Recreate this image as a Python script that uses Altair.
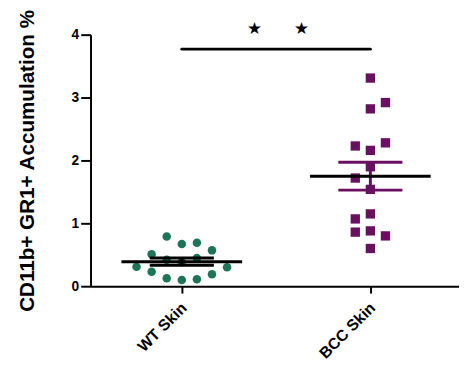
import altair as alt
import pandas as pd

# ---- data ----
groups = ["WT Skin", "BCC Skin"]
wt_values = [0.79, 0.67, 0.69, 0.57, 0.51, 0.45, 0.42, 0.38, 0.31, 0.30, 0.23, 0.19, 0.125, 0.10, 0.11]
wt_lanes = [-1, 0, 1, 2, -2, 1, -1, 0, -3, 3, -2, 2, -1, 0, 1]
bcc_values = [3.31, 2.82, 2.92, 2.23, 2.16, 2.28, 1.90, 1.72, 1.54, 1.15, 1.07, 0.86, 0.88, 0.80, 0.60]
bcc_lanes = [0, 0, 1, -1, 0, 1, 0, -1, 0, 0, -1, -1, 0, 1, 0]
y_ticks = [0, 1, 2, 3, 4]
sig_level = 3.77
star_level = 4.09
star_x = [0.385, 0.635]
star_text = ["★", "★"]

GREEN = "#1b7556"
PURPLE = "#6a1060"
LANE_STEP = 0.08

pts = pd.DataFrame({
    "gi": [0] * len(wt_values) + [1] * len(bcc_values),
    "group": [groups[0]] * len(wt_values) + [groups[1]] * len(bcc_values),
    "value": wt_values + bcc_values,
    "lane": wt_lanes + bcc_lanes,
})

xscale = alt.Scale(domain=[-0.484, 1.47], nice=False, zero=False)
yscale = alt.Scale(domain=[0, 4], nice=False)

xaxis = alt.Axis(
    values=[0, 1], title=None, grid=False,
    labelExpr="datum.value == 0 ? 'WT Skin' : 'BCC Skin'",
    labelAngle=-45, labelAlign="right", labelBaseline="middle",
    labelFont="Liberation Sans", labelFontWeight="bold", labelFontSize=16,
    labelColor="black", labelPadding=12, labelOffset=2,
    tickSize=7, tickWidth=2, tickColor="black",
    domainWidth=2, domainColor="black",
)
yaxis = alt.Axis(
    values=y_ticks, format="d", grid=False, title="CD11b+ GR1+ Accumulation %",
    titleFont="Liberation Sans", titleFontWeight="bold", titleFontSize=21,
    titleAngle=270, titleX=-64, titleY=128, titleAlign="center", titleBaseline="middle",
    titleColor="black",
    labelFont="Liberation Sans", labelFontWeight="bold", labelFontSize=14,
    labelColor="black", labelPadding=2,
    tickSize=10, tickWidth=2, tickColor="black",
    domainWidth=2, domainColor="black",
)

base = alt.Chart(pts)

points = base.transform_calculate(
    xpos=f"datum.gi + datum.lane * {LANE_STEP}"
).mark_point(filled=True, opacity=1, strokeWidth=0).encode(
    x=alt.X("xpos:Q", scale=xscale, axis=xaxis),
    y=alt.Y("value:Q", scale=yscale, axis=yaxis),
    color=alt.Color("group:N", scale=alt.Scale(domain=groups, range=[GREEN, PURPLE]), legend=None),
    shape=alt.Shape("group:N", scale=alt.Scale(domain=groups, range=["circle", "square"]), legend=None),
    size=alt.Size("group:N", scale=alt.Scale(domain=groups, range=[75, 90]), legend=None),
)

stats = base.transform_aggregate(
    mean="mean(value)", sem="stderr(value)", groupby=["gi", "group"]
).transform_calculate(
    lo="datum.mean - datum.sem", hi="datum.mean + datum.sem",
    ml="datum.gi - 0.32", mr="datum.gi + 0.32",
    sl="datum.gi - 0.17", sr="datum.gi + 0.17",
)

def sem_layers(gname, color):
    s = stats.transform_filter(alt.datum.group == gname)
    top = s.mark_rule(color=color, strokeWidth=3).encode(
        x=alt.X("sl:Q", scale=xscale), x2="sr:Q", y=alt.Y("hi:Q", scale=yscale))
    bot = s.mark_rule(color=color, strokeWidth=3).encode(
        x=alt.X("sl:Q", scale=xscale), x2="sr:Q", y=alt.Y("lo:Q", scale=yscale))
    vert = s.mark_rule(color=color, strokeWidth=3).encode(
        x=alt.X("gi:Q", scale=xscale), y=alt.Y("lo:Q", scale=yscale), y2="hi:Q")
    return [vert, top, bot]

mean_line = stats.mark_rule(color="black", strokeWidth=3).encode(
    x=alt.X("ml:Q", scale=xscale), x2="mr:Q", y=alt.Y("mean:Q", scale=yscale))

sig = alt.Chart(pd.DataFrame({"a": [0], "b": [1], "y": [sig_level]})).mark_rule(
    color="black", strokeWidth=3, strokeCap="round").encode(
    x=alt.X("a:Q", scale=xscale), x2="b:Q", y=alt.Y("y:Q", scale=yscale))

stars = alt.Chart(pd.DataFrame({"x": star_x, "y": [star_level] * 2, "t": star_text})).mark_text(
    font="DejaVu Sans", fontSize=17, color="black", baseline="middle", clip=False).encode(
    x=alt.X("x:Q", scale=xscale), y=alt.Y("y:Q", scale=yscale), text="t:N")

chart = alt.layer(
    points, *sem_layers("WT Skin", "black"), *sem_layers("BCC Skin", PURPLE), mean_line, sig, stars
).properties(
    width=375, height=256,
    autosize=alt.AutoSizeParams(type="none"),
    padding={"left": 84, "top": 24, "right": 0, "bottom": 75},
    background="white",
).configure_view(stroke=None)

chart.save("out.html", embed_options={"renderer": "svg", "actions": False})
